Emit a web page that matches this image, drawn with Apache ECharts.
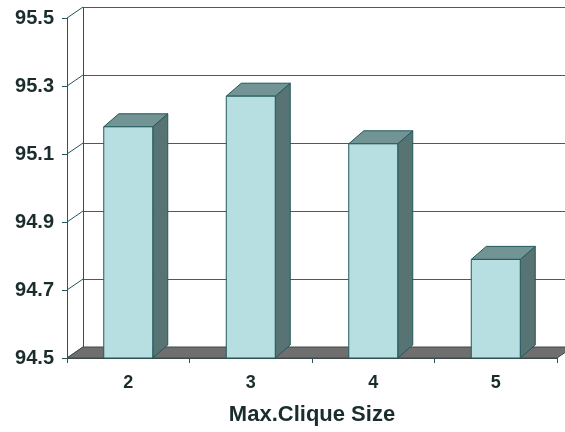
<!DOCTYPE html>
<html>
<head>
<meta charset="utf-8">
<script src="https://cdn.jsdelivr.net/npm/echarts@6/dist/echarts.min.js"></script>
<style>
  html, body { margin: 0; padding: 0; background: #fff; }
  #chart { width: 565px; height: 432px; }
</style>
</head>
<body>
<div id="chart"></div>
<script>
// Accuracy (%) by maximum clique size
const categories = ['2', '3', '4', '5'];
const accuracy = [95.18, 95.27, 95.13, 94.79];
const yTickLabels = ['94.5', '94.7', '94.9', '95.1', '95.3', '95.5'];
const axisBase = 94.5;
const axisSpan = 1.0;
const xAxisTitle = 'Max.Clique Size';

// oblique depth of the back wall and of each column
const WALL_DX = 16, WALL_DY = -11;
const BAR_DX = 15, BAR_DY = -13;

const FONT = 'Liberation Sans, Arial, sans-serif';
const TEXT = '#1a2c2c';
const EDGE = '#22585a';
const GRIDLINE = '#b03030';

const chart = echarts.init(document.getElementById('chart'), null, { renderer: 'canvas' });

const frontGrid = { left: 67, top: 18, width: 490, height: 340 };

// back wall, its gridlines, the left wall connectors and the floor
function wallItem(params, api) {
  const cs = params.coordSys;
  const x0 = cs.x, x1 = cs.x + cs.width, y = cs.y + cs.height;
  const children = [];
  for (let i = 0; i < yTickLabels.length; i++) {
    const v = parseFloat(yTickLabels[i]) - axisBase;
    const yy = Math.round(api.coord([0, v])[1] + WALL_DY) + 0.5;
    if (i > 0) {
      children.push({
        type: 'line',
        shape: { x1: x0 + WALL_DX, y1: yy, x2: x1 + WALL_DX, y2: yy },
        style: { stroke: GRIDLINE, lineWidth: 1 }
      });
    }
  }
  // back-left edge of the wall
  children.push({
    type: 'line',
    shape: {
      x1: x0 + WALL_DX + 0.5, y1: Math.round(cs.y + WALL_DY) + 0.5,
      x2: x0 + WALL_DX + 0.5, y2: y + WALL_DY
    },
    style: { stroke: EDGE, lineWidth: 1 }
  });
  for (let i = 0; i < yTickLabels.length; i++) {
    const v = parseFloat(yTickLabels[i]) - axisBase;
    const p = api.coord([0, v]);
    children.push({
      type: 'line',
      shape: { x1: x0, y1: p[1], x2: x0 + WALL_DX, y2: p[1] + WALL_DY },
      style: { stroke: i === 0 ? '#3e4a4a' : EDGE, lineWidth: 1 }
    });
  }
  const pts = [[x0, y], [x1, y], [x1 + WALL_DX, y + WALL_DY], [x0 + WALL_DX, y + WALL_DY]];
  children.push({
    type: 'polygon', shape: { points: pts },
    style: { fill: '#6f6f6f', stroke: '#3e4a4a', lineWidth: 1 }
  });
  return { type: 'group', children: children };
}

function barItem(params, api) {
  const idx = api.value(0);
  const v = api.value(1);
  const base = api.coord([idx, 0]);
  const top = api.coord([idx, v - axisBase]);
  const w = api.size([1, 0])[0] * 0.4;
  const xl = base[0] - w / 2, xr = base[0] + w / 2;
  const yb = base[1], yt = top[1];
  const st = { stroke: EDGE, lineWidth: 1, lineJoin: 'round' };
  return {
    type: 'group',
    children: [
      {
        type: 'polygon',
        shape: { points: [[xr, yt], [xr, yb], [xr + BAR_DX, yb + BAR_DY], [xr + BAR_DX, yt + BAR_DY]] },
        style: Object.assign({ fill: '#587373' }, st)
      },
      {
        type: 'polygon',
        shape: { points: [[xl, yt], [xr, yt], [xr + BAR_DX, yt + BAR_DY], [xl + BAR_DX, yt + BAR_DY]] },
        style: Object.assign({ fill: '#729494' }, st)
      },
      {
        type: 'rect',
        shape: { x: xl, y: yt, width: w, height: yb - yt },
        style: Object.assign({ fill: '#b7dfe2' }, st)
      }
    ]
  };
}

chart.setOption({
  animation: false,
  backgroundColor: '#ffffff',
  grid: [frontGrid],
  xAxis: [
    {
      type: 'category', data: categories,
      axisLine: { show: true, lineStyle: { color: '#3e4a4a', width: 1 } },
      axisTick: { show: true, length: 5, lineStyle: { color: EDGE } },
      axisLabel: { margin: 16, fontFamily: FONT, fontSize: 18, fontWeight: 'bold', color: TEXT },
      name: xAxisTitle, nameLocation: 'middle', nameGap: 46,
      nameTextStyle: { fontFamily: FONT, fontSize: 22, fontWeight: 'bold', color: TEXT },
      splitLine: { show: false }
    }
  ],
  yAxis: [
    {
      type: 'value', min: 0, max: axisSpan, interval: 0.2,
      axisLine: { show: true, lineStyle: { color: EDGE, width: 1 } },
      axisTick: { show: true, length: 5, lineStyle: { color: EDGE } },
      axisLabel: {
        margin: 13, fontFamily: FONT, fontSize: 20, fontWeight: 'bold', color: TEXT,
        formatter: function (v) { return yTickLabels[Math.round(v / 0.2)]; }
      },
      splitLine: { show: false }
    }
  ],
  series: [
    {
      type: 'custom', z: 1,
      renderItem: wallItem, data: [[0, 0]], clip: false, silent: true
    },
    {
      type: 'custom', z: 2,
      renderItem: barItem,
      data: accuracy.map(function (v, i) { return [i, v]; }),
      clip: false
    }
  ]
});
</script>
</body>
</html>
